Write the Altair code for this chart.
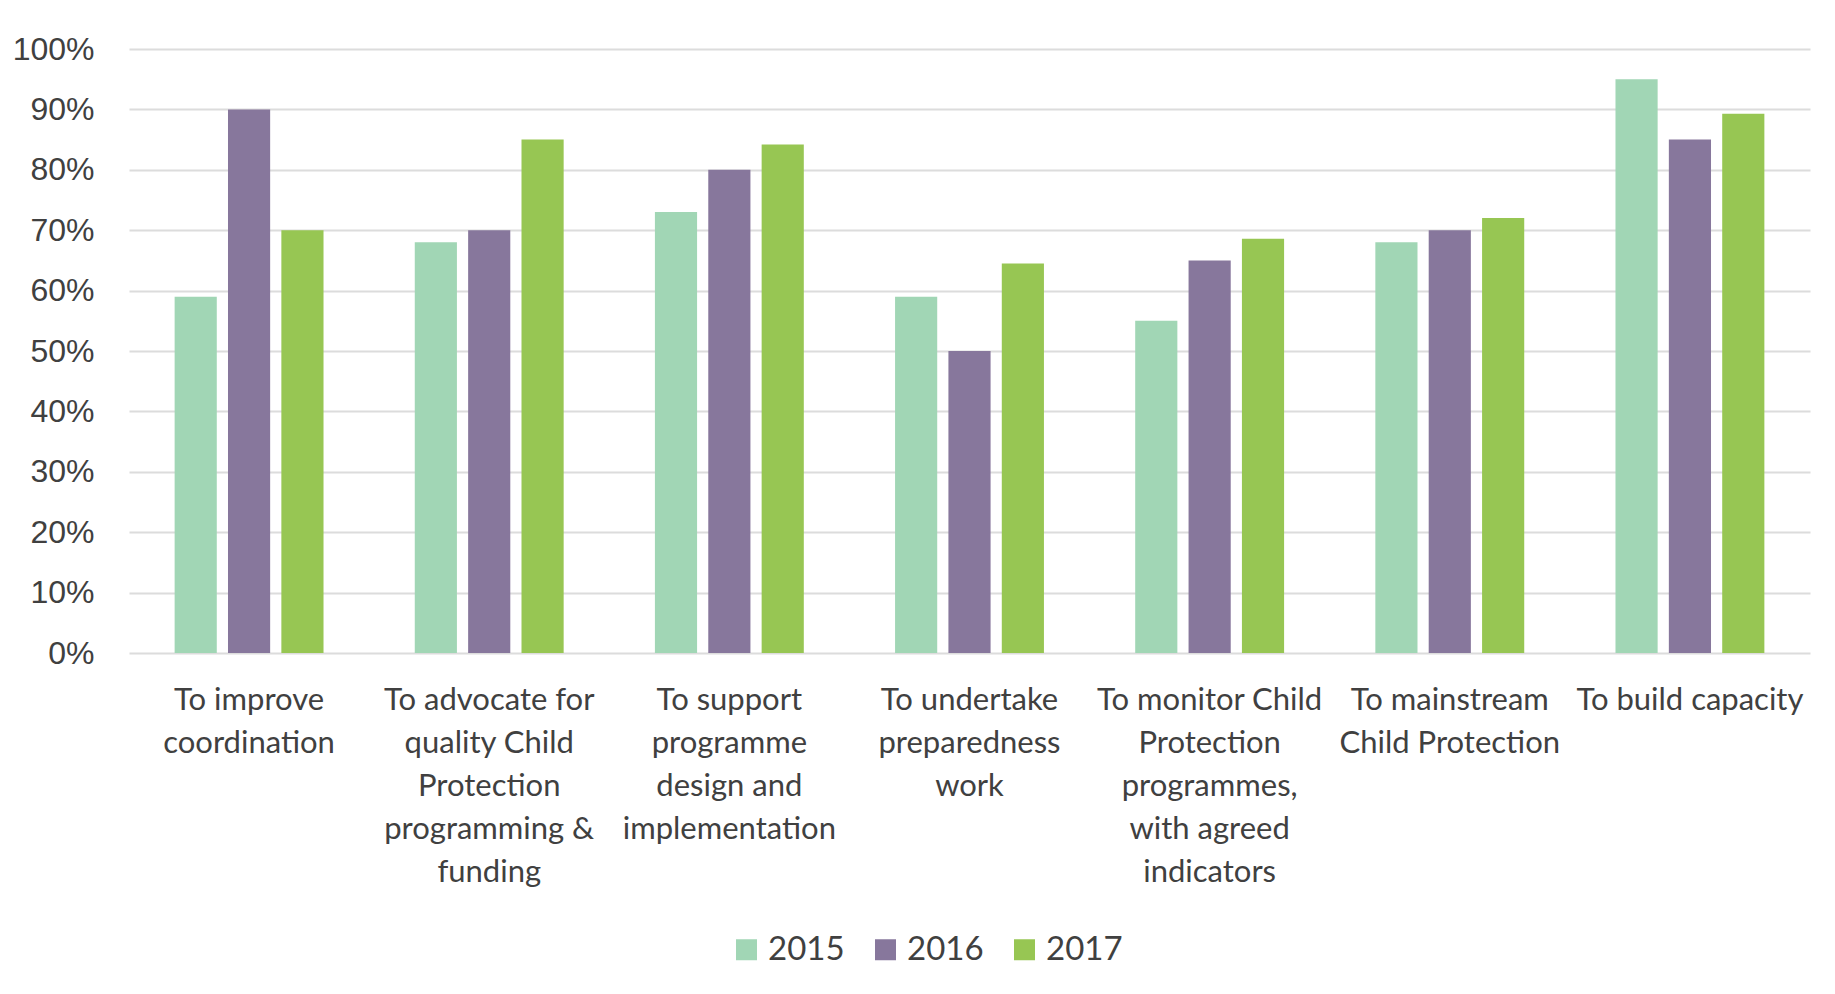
import altair as alt
import pandas as pd

categories = [
    "To improve\ncoordination",
    "To advocate for\nquality Child\nProtection\nprogramming &\nfunding",
    "To support\nprogramme\ndesign and\nimplementation",
    "To undertake\npreparedness\nwork",
    "To monitor Child\nProtection\nprogrammes,\nwith agreed\nindicators",
    "To mainstream\nChild Protection",
    "To build capacity",
]
years = ["2015", "2016", "2017"]
values_2015 = [59, 68, 73, 59, 55, 68, 95]
values_2016 = [90, 70, 80, 50, 65, 70, 85]
values_2017 = [70, 85, 84.2, 64.5, 68.6, 72, 89.3]
colors = ["#A1D6B5", "#87779C", "#97C653"]
y_ticks = [0, 10, 20, 30, 40, 50, 60, 70, 80, 90, 100]

rows = []
for yr, vals in zip(years, [values_2015, values_2016, values_2017]):
    for c, v in zip(categories, vals):
        rows.append({"category": c, "year": yr, "value": v})
df = pd.DataFrame(rows)

text_color = "#404040"

chart = alt.Chart(df).mark_bar().encode(
    x=alt.X(
        "category:N",
        sort=categories,
        title=None,
        scale=alt.Scale(paddingInner=0.38, paddingOuter=0.19),
        axis=alt.Axis(
            labelAngle=0,
            labelExpr="split(datum.label, '\\n')",
            labelFont="Lato",
            labelFontSize=31,
            labelLineHeight=43,
            labelColor=text_color,
            labelPadding=32,
            labelLimit=0,
            ticks=False,
            domain=False,
            grid=False,
        ),
    ),
    xOffset=alt.XOffset("year:N", sort=years, scale=alt.Scale(paddingInner=0.21, paddingOuter=0)),
    y=alt.Y(
        "value:Q",
        title=None,
        scale=alt.Scale(domain=[0, 100], nice=False),
        axis=alt.Axis(
            values=y_ticks,
            labelExpr="datum.value + '%'",
            labelFont="Liberation Sans",
            labelFontSize=32,
            labelColor=text_color,
            labelPadding=35,
            ticks=False,
            domain=False,
            grid=True,
            gridColor="#DCDCDC",
            gridWidth=1.8,
        ),
    ),
    color=alt.Color(
        "year:N",
        sort=years,
        scale=alt.Scale(domain=years, range=colors),
        legend=alt.Legend(
            title=None,
            orient="none",
            direction="horizontal",
            legendX=601,
            legendY=884,
            symbolType="square",
            symbolSize=441,
            symbolStrokeWidth=0,
            labelFont="Lato",
            labelFontSize=33,
            labelColor=text_color,
            labelOffset=5,
            columnPadding=24,
        ),
    ),
).properties(
    width=1681,
    height=604,
    autosize=alt.AutoSizeParams(type="none"),
    padding={"left": 121, "top": 41, "right": 17, "bottom": 333},
).configure(background="white").configure_view(stroke=None, strokeWidth=0)

chart.save("out.html", embed_options={"renderer": "svg", "actions": False})
